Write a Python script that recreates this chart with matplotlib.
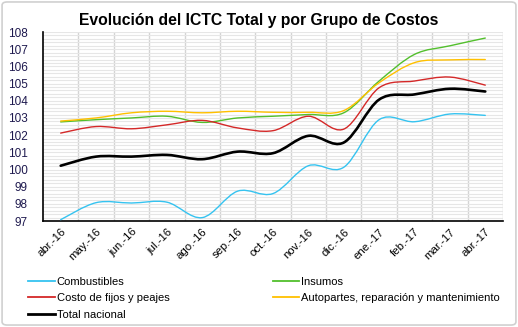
import numpy as np
import matplotlib
matplotlib.use("Agg")
import matplotlib.pyplot as plt
from matplotlib import font_manager
from matplotlib.path import Path
from matplotlib.patches import PathPatch, FancyBboxPatch
from matplotlib.lines import Line2D
from matplotlib.ticker import MultipleLocator

meses = ["abr.-16", "may.-16", "jun.-16", "jul.-16", "ago.-16", "sep.-16", "oct.-16",
         "nov.-16", "dic.-16", "ene.-17", "feb.-17", "mar.-17", "abr.-17"]

combustibles = [97.08, 98.07, 98.05, 98.10, 97.20, 98.74, 98.60, 100.22, 100.13,
                102.90, 102.78, 103.23, 103.15]
insumos = [102.77, 102.90, 103.00, 103.10, 102.74, 103.00, 103.10, 103.20, 103.30,
           105.15, 106.70, 107.20, 107.65]
fijos_peajes = [102.12, 102.50, 102.37, 102.60, 102.86, 102.42, 102.26, 103.10, 102.35,
                104.76, 105.15, 105.38, 104.91]
autopartes = [102.82, 103.00, 103.30, 103.39, 103.30, 103.39, 103.33, 103.33, 103.43,
              105.05, 106.22, 106.38, 106.40]
total = [100.22, 100.75, 100.75, 100.85, 100.60, 101.04, 100.95, 101.96, 101.57,
         104.07, 104.37, 104.70, 104.54]

series = {
    "Combustibles": (combustibles, "#35c3f0", 1.0),
    "Insumos": (insumos, "#52bf2c", 1.0),
    "Costo de fijos y peajes": (fijos_peajes, "#d42828", 1.0),
    "Autopartes, reparación y mantenimiento": (autopartes, "#ffc000", 1.0),
    "Total nacional": (total, "#000000", 1.9),
}
# legend fills column by column, so list the left column first
legend_order = ["Combustibles", "Costo de fijos y peajes", "Total nacional",
                "Insumos", "Autopartes, reparación y mantenimiento"]


# smoothed line through the points, built from cubic bezier segments
def smooth_path(y):
    x = np.arange(len(y), dtype=float)
    y = np.asarray(y, dtype=float)
    pts = np.column_stack([x, y])
    n = len(pts)
    verts = [pts[0]]
    codes = [Path.MOVETO]
    for i in range(n - 1):
        p0 = pts[max(i - 1, 0)]
        p1 = pts[i]
        p2 = pts[i + 1]
        p3 = pts[min(i + 2, n - 1)]
        c1 = p1 + (p2 - p0) / 6.0
        c2 = p2 - (p3 - p1) / 6.0
        verts += [c1, c2, p2]
        codes += [Path.CURVE4] * 3
    return Path(verts, codes)


plt.rcParams["font.family"] = ["Liberation Sans", "DejaVu Sans"]

installed = {f.name for f in font_manager.fontManager.ttflist}
if "Liberation Sans Narrow" in installed:
    title_font, title_size = ["Liberation Sans Narrow", "DejaVu Sans"], 13
else:
    title_font, title_size = ["Liberation Sans", "DejaVu Sans"], 11.3

fig = plt.figure(figsize=(5.18, 3.27), dpi=100)
fig.patch.set_facecolor("white")
fig.patches.append(FancyBboxPatch((0.004, 0.006), 0.992, 0.988,
                                  boxstyle="round,pad=0,rounding_size=0.01",
                                  transform=fig.transFigure, fill=False,
                                  edgecolor="#d0d0d0", linewidth=1.2))

ax = fig.add_axes([0.083, 0.324, 0.888, 0.578])

handles = {}
for name, (vals, color, lw) in series.items():
    patch = PathPatch(smooth_path(vals), fill=False, edgecolor=color, linewidth=lw,
                      capstyle="round", joinstyle="round", zorder=3)
    ax.add_patch(patch)
    handles[name] = Line2D([], [], color=color, linewidth=1.3 if lw < 1.5 else 2.0, label=name)

ax.set_xlim(-0.5, len(meses) - 0.5)
ax.set_ylim(97, 108)
ax.yaxis.set_major_locator(MultipleLocator(1))
ax.yaxis.set_minor_locator(MultipleLocator(0.2))
ax.set_xticks(np.arange(len(meses)))
ax.set_xticklabels(meses, rotation=45, ha="right", rotation_mode="anchor", fontsize=8.2)
ax.set_xticks(np.arange(len(meses)) + 0.5, minor=True)

ax.grid(which="minor", axis="y", color="#e6e6e6", linewidth=0.8)
ax.grid(which="major", axis="y", color="#e6e6e6", linewidth=0.8)
ax.grid(which="minor", axis="x", color="#d4d4d4", linewidth=1.0)
ax.set_axisbelow(True)

ax.tick_params(axis="both", which="both", length=0)
ax.tick_params(axis="y", labelsize=8.5, labelcolor="#1f1a4f", pad=11)
ax.tick_params(axis="x", pad=4)

for side in ["top", "right"]:
    ax.spines[side].set_visible(False)
ax.spines["left"].set_linewidth(1.2)
ax.spines["bottom"].set_linewidth(1.2)

fig.text(0.5, 0.938, "Evolución del ICTC Total y por Grupo de Costos",
         ha="center", va="center", fontsize=title_size, fontweight="bold",
         family=title_font)

fig.legend(handles=[handles[k] for k in legend_order], loc="upper left",
           bbox_to_anchor=(0.046, 0.168), ncol=2, frameon=False, fontsize=8,
           handlelength=2.4, handletextpad=0.15, columnspacing=9.3,
           labelspacing=0.6, borderaxespad=0)

fig.savefig("out.png", dpi=100)
